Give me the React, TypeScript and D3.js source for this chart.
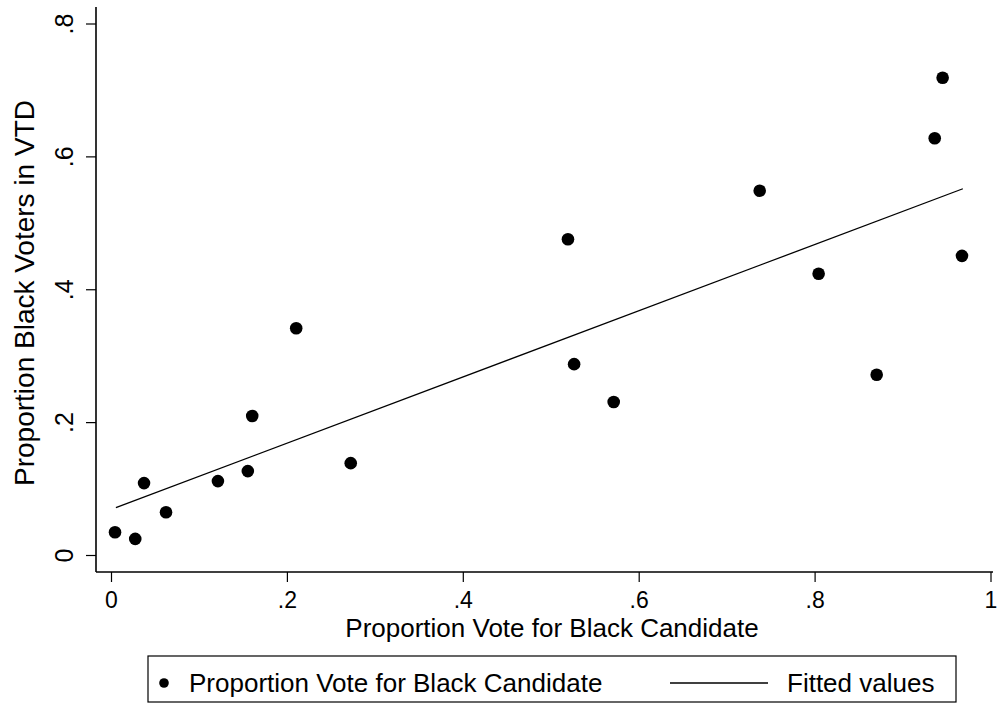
import React from "react";
import * as d3 from "d3";

// scatter points: proportion vote for black candidate vs proportion black voters
const voteShare = [0.004, 0.027, 0.037, 0.062, 0.121, 0.155, 0.16, 0.21, 0.272, 0.519, 0.526, 0.571, 0.737, 0.804, 0.87, 0.936, 0.945, 0.967];
const blackVoters = [0.035, 0.025, 0.109, 0.065, 0.112, 0.127, 0.21, 0.342, 0.139, 0.476, 0.288, 0.231, 0.549, 0.424, 0.272, 0.628, 0.719, 0.451];

// fitted line endpoints
const fitX = [0.005, 0.968];
const fitY = [0.072, 0.552];

const xTicks = [0, 0.2, 0.4, 0.6, 0.8, 1];
const yTicks = [0, 0.2, 0.4, 0.6, 0.8];
const tickLabel = (v: number) => (v === 0 ? "0" : v === 1 ? "1" : d3.format(".1f")(v).replace(/^0/, ""));

export default function App() {
  const width = 1002, height = 705;
  const x = d3.scaleLinear().domain([0, 1]).range([111.5, 991]);
  const y = d3.scaleLinear().domain([0, 0.8]).range([555.5, 24]);
  const axisX = 96, axisY = 572;
  const font = "'Liberation Sans', Arial, sans-serif";

  const fitLine = d3.line<number>().x((d) => x(d)).y((_, i) => y(fitY[i]))(fitX);

  return (
    <svg width={width} height={height} style={{ position: "absolute", left: 0, top: 0, background: "#fff" }} fontFamily={font}>
      {/* axes */}
      <line x1={axisX} x2={axisX} y1={7} y2={axisY} stroke="#000" strokeWidth={1.6} />
      <line x1={axisX} x2={993} y1={axisY} y2={axisY} stroke="#000" strokeWidth={1.6} />

      {yTicks.map((t) => (
        <g key={"y" + t}>
          <line x1={86} x2={axisX} y1={y(t)} y2={y(t)} stroke="#000" strokeWidth={1.2} />
          <text transform={`translate(73,${y(t)}) rotate(-90)`} textAnchor="middle" fontSize={25}>
            {tickLabel(t)}
          </text>
        </g>
      ))}
      {xTicks.map((t) => (
        <g key={"x" + t}>
          <line x1={x(t)} x2={x(t)} y1={axisY} y2={582} stroke="#000" strokeWidth={1.2} />
          <text x={x(t)} y={608} textAnchor="middle" fontSize={23}>
            {tickLabel(t)}
          </text>
        </g>
      ))}

      <text transform="translate(34,293) rotate(-90)" textAnchor="middle" fontSize={28}>
        Proportion Black Voters in VTD
      </text>
      <text x={552} y={637} textAnchor="middle" fontSize={26}>
        Proportion Vote for Black Candidate
      </text>

      {/* fitted line */}
      <path d={fitLine ?? ""} fill="none" stroke="#000" strokeWidth={1.3} />

      {/* points */}
      {voteShare.map((v, i) => (
        <circle key={i} cx={x(v)} cy={y(blackVoters[i])} r={6.3} fill="#000" />
      ))}

      {/* legend */}
      <rect x={148} y={656} width={808} height={46} fill="none" stroke="#000" strokeWidth={1.2} />
      <circle cx={164} cy={683} r={4.8} fill="#000" />
      <text x={189} y={692} fontSize={26}>
        Proportion Vote for Black Candidate
      </text>
      <line x1={670} x2={768} y1={683} y2={683} stroke="#000" strokeWidth={1.3} />
      <text x={787} y={692} fontSize={26}>
        Fitted values
      </text>
    </svg>
  );
}
